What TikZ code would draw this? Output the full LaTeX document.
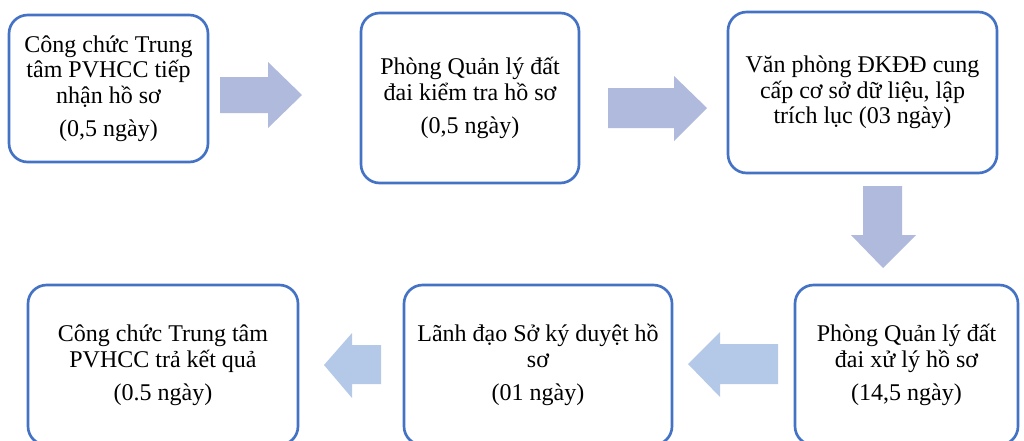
\documentclass[tikz,border=0pt]{standalone}
\usepackage{fontspec}
\setmainfont{Liberation Serif}
\usepackage{tikz}

\definecolor{boxblue}{HTML}{4472C4}
\definecolor{arrowtop}{HTML}{AFBADC}
\definecolor{arrowbot}{HTML}{B4C8E7}

\begin{document}
\begin{tikzpicture}[x=0.75pt,y=-0.75pt]
\tikzstyle{every node}+=[inner sep=0pt]
\tikzstyle{stepbox}=[draw=boxblue, fill=white, line width=2pt, rounded corners=14pt, align=center, font=\fontsize{18}{19.2}\selectfont]
\tikzstyle{blockarrow}=[draw=none]
\useasboundingbox (0,0) rectangle (1024,440);
\node [stepbox, minimum width=149.25pt, minimum height=110.25pt] (recv) at (108.5,88.5) {C\^ong chức Trung\\t\^am PVHCC tiếp\\nhận hồ sơ\\[5.5pt](0,5 ngày)};
\node [stepbox, minimum width=163.5pt, minimum height=127.5pt] (check) at (470,98) {Phòng Quản lý đất\\đai kiểm tra hồ sơ\\[5.5pt](0,5 ngày)};
\node [stepbox, minimum width=201.75pt, minimum height=120.75pt] (office) at (862.5,92.5) {Văn phòng ĐKĐĐ cung\\cấp cơ sở dữ liệu, lập\\trích lục (03 ngày)};
\node [stepbox, minimum width=167.25pt, minimum height=120pt] (handle) at (906.5,365) {Phòng Quản lý đất\\đai xử lý hồ sơ\\[5.5pt](14,5 ngày)};
\node [stepbox, minimum width=201pt, minimum height=120pt] (sign) at (538,365) {Lãnh đạo Sở ký duyệt hồ\\sơ\\[5.5pt](01 ngày)};
\node [stepbox, minimum width=202.5pt, minimum height=120pt] (back) at (163,365) {C\^ong chức Trung t\^am\\PVHCC trả kết quả\\[5.5pt](0.5 ngày)};
\fill [blockarrow, arrowtop] (220,77) -- (268,77) -- (268,62) -- (302,95) -- (268,128) -- (268,113) -- (220,113) -- cycle;
\fill [blockarrow, arrowtop] (608,88) -- (674,88) -- (674,76) -- (707,108) -- (674,141) -- (674,128) -- (608,128) -- cycle;
\fill [blockarrow, arrowtop] (863,186) -- (902,186) -- (902,235) -- (916,235) -- (883,268) -- (851,235) -- (863,235) -- cycle;
\fill [blockarrow, arrowbot] (778,344) -- (720,344) -- (720,332) -- (688,364) -- (720,397) -- (720,384) -- (778,384) -- cycle;
\fill [blockarrow, arrowbot] (381,345) -- (352,345) -- (352,333) -- (324,365) -- (352,398) -- (352,384) -- (381,384) -- cycle;
\end{tikzpicture}
\end{document}
